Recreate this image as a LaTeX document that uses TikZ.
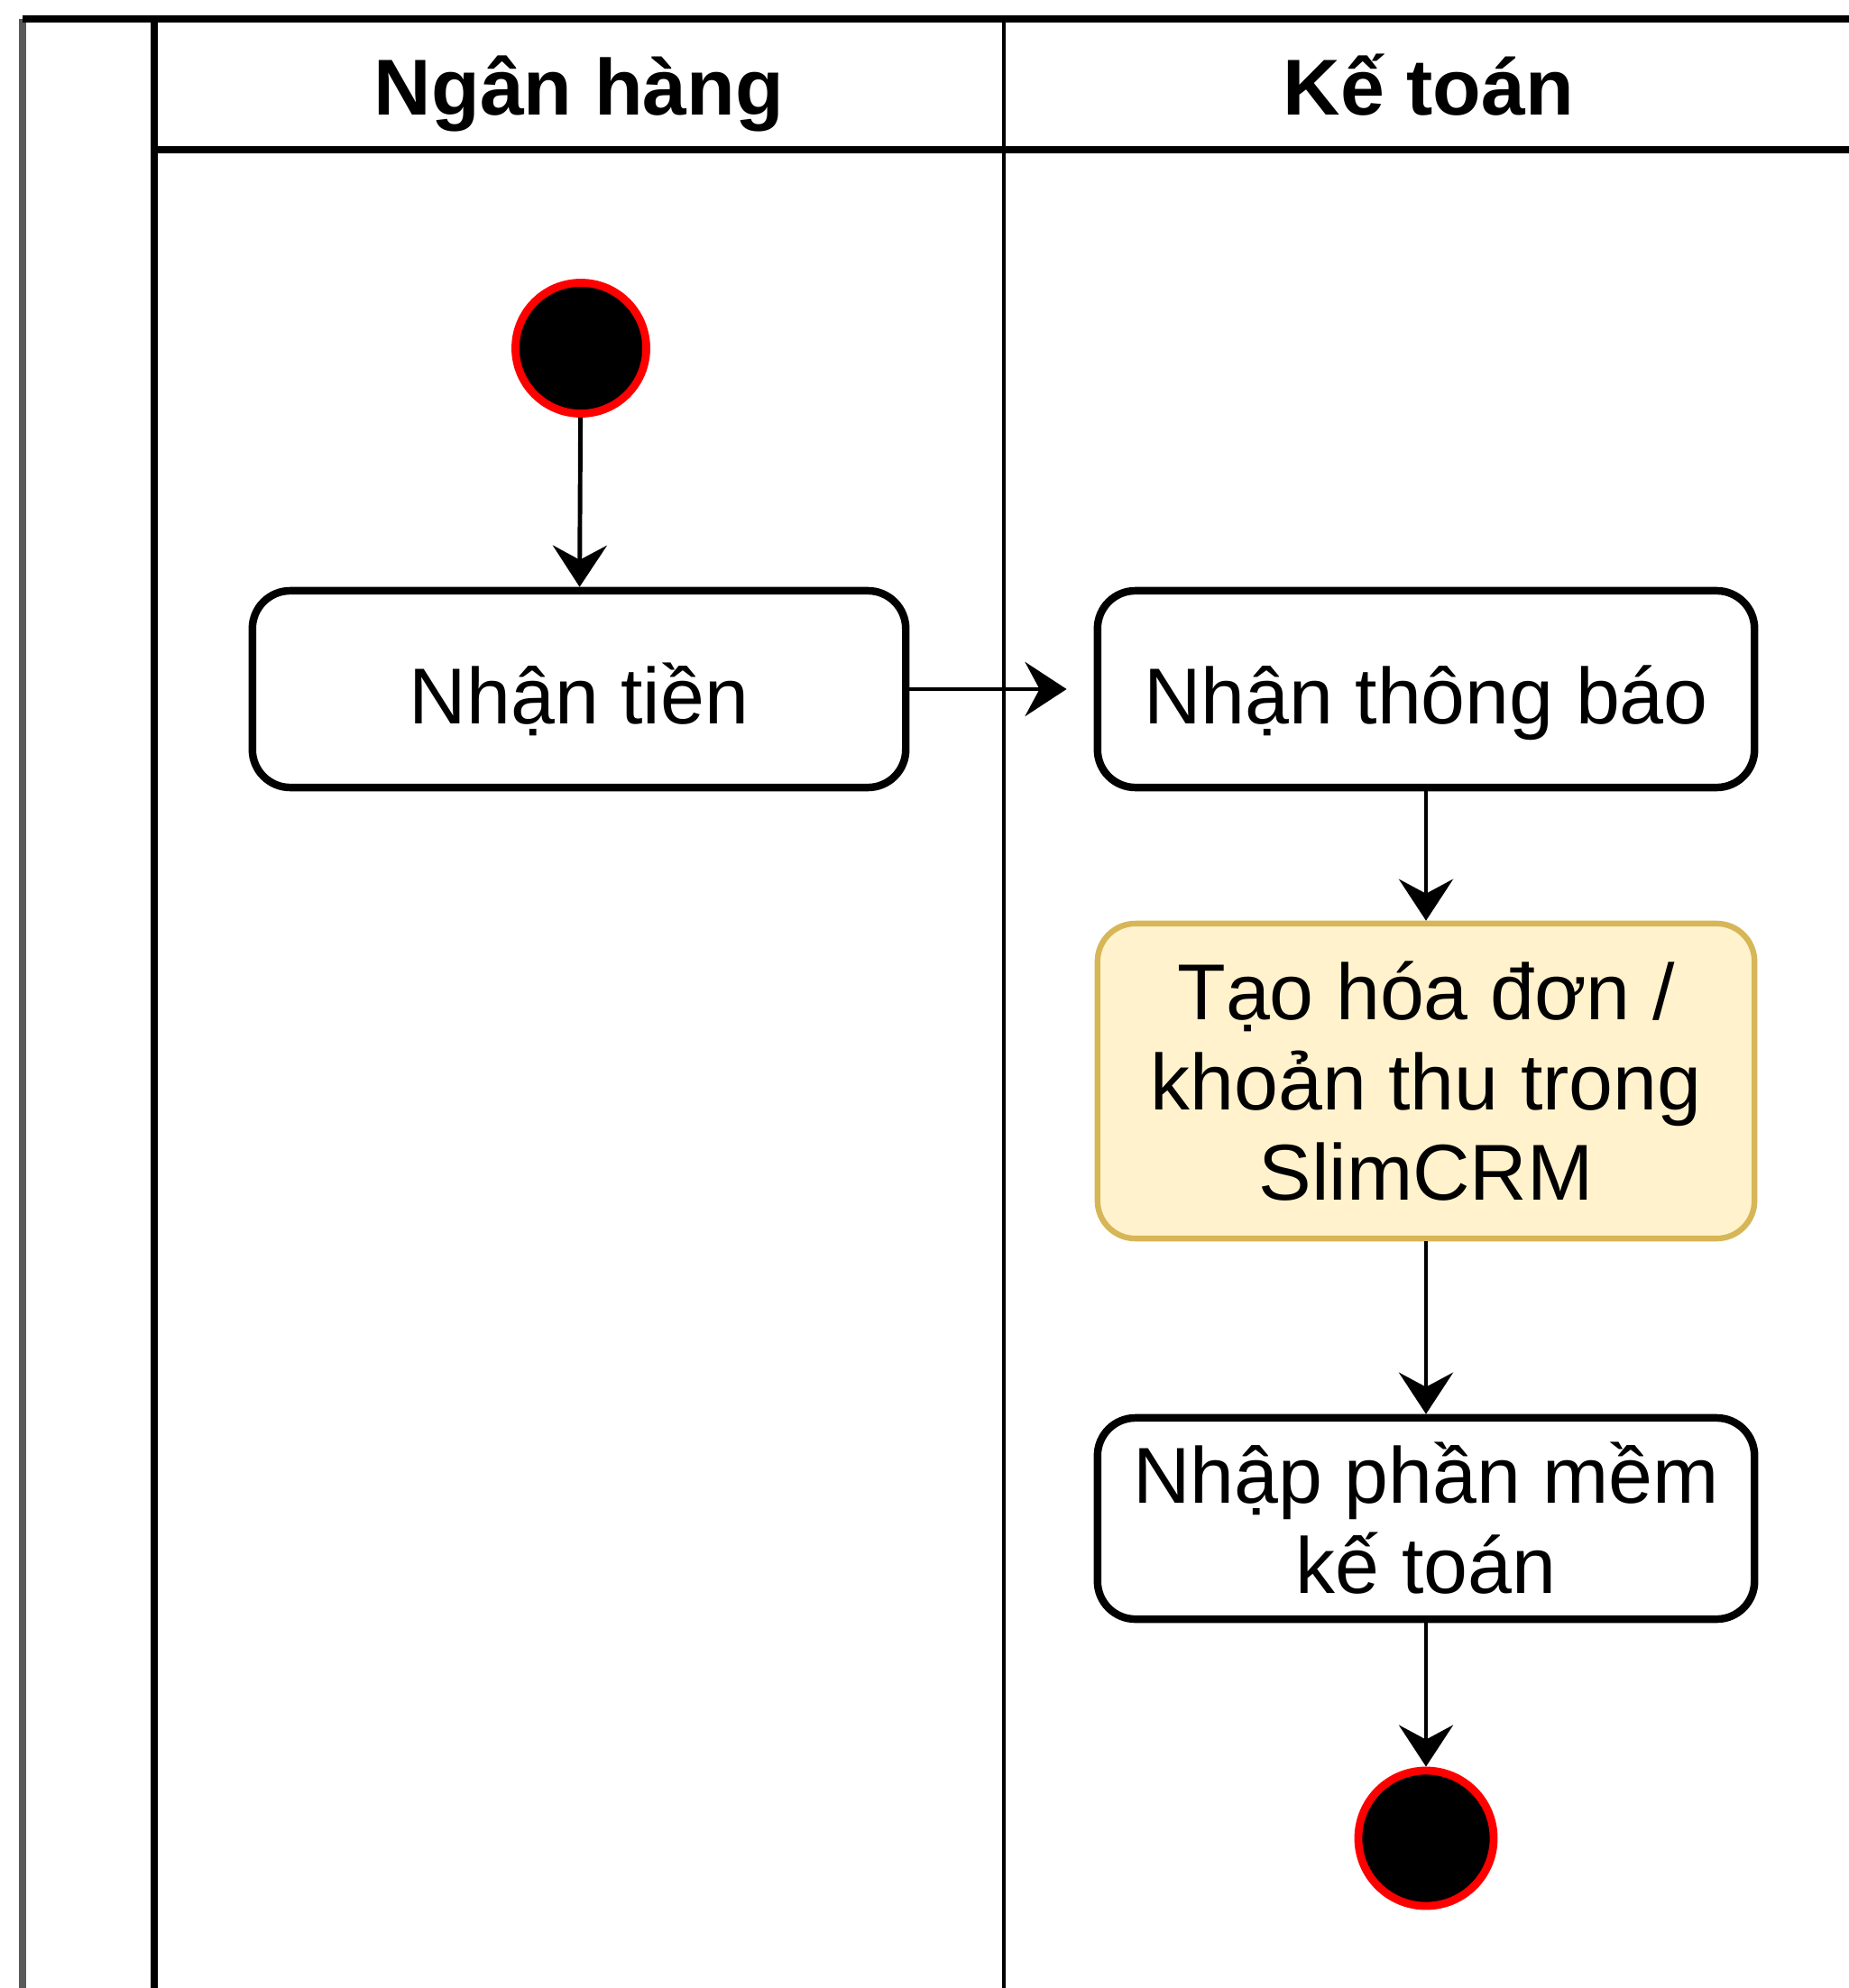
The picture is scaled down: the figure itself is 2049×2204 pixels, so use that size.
\documentclass[tikz,border=0pt]{standalone}
\usepackage{fontspec}
\setmainfont{Liberation Sans}
\usetikzlibrary{arrows.meta}
\definecolor{noteFill}{HTML}{FFF2CC}
\definecolor{noteLine}{HTML}{D6B656}
\definecolor{startRed}{HTML}{FF0000}
\begin{document}
\begin{tikzpicture}[x=0.01cm,y=-0.01cm,
  lanetitle/.style={font=\bfseries\fontsize{25}{30}\selectfont, inner sep=0pt, anchor=base},
  act/.style={draw=black, line width=2.4pt, rounded corners=0.42cm, fill=white,
    minimum width=7.28cm, minimum height=2.18cm, align=center,
    font=\fontsize{25}{28.4}\selectfont, inner sep=0pt},
  oneline/.style={text height=0.88cm, text depth=0.12cm},
  note/.style={act, draw=noteLine, fill=noteFill, line width=1.8pt},
  initial/.style={circle, draw=startRed, fill=black, line width=2.5pt,
    minimum size=1.45cm, inner sep=0pt},
  flow/.style={draw=black, line width=1.4pt,
    -{Stealth[length=0.46cm, width=0.6cm, inset=0.16cm]}},
  poolline/.style={draw=black, line width=2.2pt},
  laneline/.style={draw=black, line width=1.3pt}
]
\useasboundingbox (0,0) rectangle (2049,2204);
\fill[white] (0,0) rectangle (2049,2204);

% pool frame
\draw[poolline, draw=black!65] (25,2210) -- (25,21);
\draw[poolline] (25,21) -- (2060,21);
\draw[poolline] (171,21) -- (171,2210);
\draw[poolline] (171,166) -- (2060,166);
\draw[laneline] (1113,21) -- (1113,2210);

% lane titles
\node[lanetitle] (hbank) at (642,128) {Ngân hàng};
\node[lanetitle] (hacct) at (1584,128) {Kế toán};

% nodes
\node[initial] (start) at (644,386) {};
\node[act, oneline, minimum width=7.24cm] (recv) at (642,764) {Nhận tiền};
\node[act, oneline] (notify) at (1581,764) {Nhận thông báo};
\node[note, minimum height=3.49cm] (invoice) at (1581,1198.5) {Tạo hóa đơn /\\khoản thu trong\\SlimCRM};
\node[act, minimum height=2.23cm] (soft) at (1581,1683.5) {Nhập phần mềm\\kế toán};
\node[initial, minimum size=1.5cm] (stop) at (1581,2038) {};

% connectors
\draw[flow] (start) -- (recv);
\draw[flow, shorten >=0.3cm] (recv) -- (notify);
\draw[flow] (notify) -- (invoice);
\draw[flow] (invoice) -- (soft);
\draw[flow] (soft) -- (stop);
\end{tikzpicture}
\end{document}
